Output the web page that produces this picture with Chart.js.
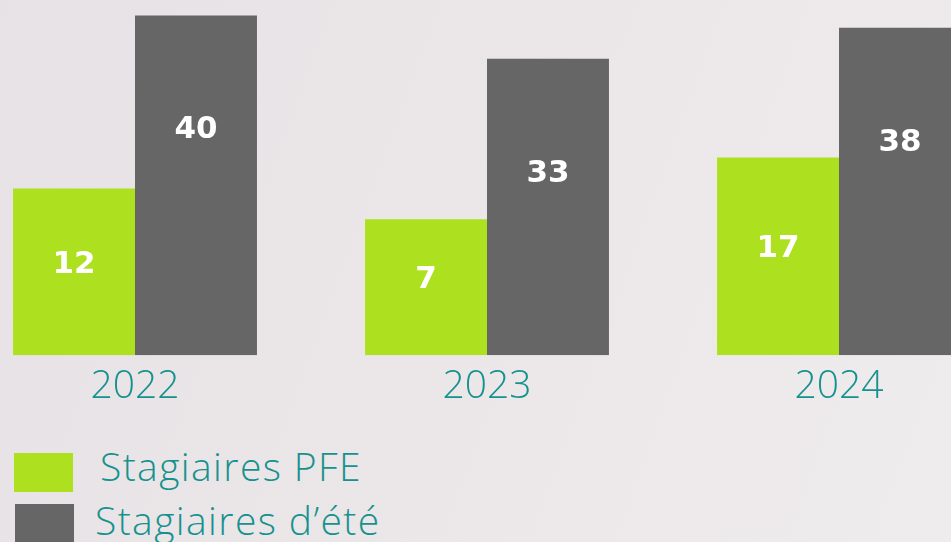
<!DOCTYPE html>
<html>
<head>
<meta charset="utf-8">
<script src="https://cdn.jsdelivr.net/npm/chart.js@4/dist/chart.umd.min.js"></script>
<style>
  html, body { margin: 0; padding: 0; width: 951px; height: 542px; overflow: hidden; }
  body { background: linear-gradient(110deg, #e7e2e5 0%, #ebe7e9 50%, #efecee 100%); position: relative; font-family: "Open Sans", sans-serif; }
  #wrap { position: absolute; left: -41px; top: 0; width: 1056px; height: 410px; }
  #legend { position: absolute; left: 0; top: 0; }
  .item { position: absolute; white-space: nowrap; color: #16928e; font-size: 39px; font-weight: 300; letter-spacing: 1.4px; }
  .box { position: absolute; width: 59px; height: 39px; }
</style>
</head>
<body>
<div id="wrap"><canvas id="c"></canvas></div>
<div id="legend"></div>
<script>
const categories = ["2022", "2023", "2024"];
const seriesNames = ["Stagiaires PFE", "Stagiaires d\u2019été"];
const stagiairesPFE = [12, 7, 17];
const stagiairesEte = [40, 33, 38];
const seriesColors = ["#ade01f", "#666666"];

const valueLabels = {
  id: "valueLabels",
  afterDatasetsDraw(chart) {
    const ctx = chart.ctx;
    ctx.save();
    ctx.fillStyle = "#ffffff";
    ctx.font = "bold 31px 'DejaVu Sans', sans-serif";
    ctx.textAlign = "center";
    ctx.textBaseline = "middle";
    chart.data.datasets.forEach((ds, di) => {
      chart.getDatasetMeta(di).data.forEach((bar, i) => {
        const h = bar.base - bar.y;
        const y = di === 0 ? (bar.y + h / 2 - 7) : (bar.y + 115);
        ctx.fillText(String(ds.data[i]), bar.x, y);
      });
    });
    ctx.restore();
  }
};

const chart = new Chart(document.getElementById("c"), {
  type: "bar",
  data: {
    labels: categories,
    datasets: [
      { label: seriesNames[0], data: stagiairesPFE, backgroundColor: seriesColors[0], base: -15 },
      { label: seriesNames[1], data: stagiairesEte, backgroundColor: seriesColors[1], base: -15 }
    ]
  },
  options: {
    responsive: true,
    maintainAspectRatio: false,
    animation: false,
    layout: { padding: 0 },
    datasets: { bar: { barPercentage: 1, categoryPercentage: 0.693 } },
    plugins: { legend: { display: false }, tooltip: { enabled: false } },
    scales: {
      x: {
        grid: { display: false },
        border: { display: false },
        ticks: { color: "#16928e", padding: 0, font: { family: "'Open Sans', sans-serif", size: 39, weight: 300 } }
      },
      y: {
        display: false,
        min: -15,
        max: 42.5
      }
    }
  },
  plugins: [valueLabels]
});

// HTML legend built from the chart datasets
const legend = document.getElementById("legend");
const legendPos = [{ bx: 14, by: 453, tx: 100, ty: 439 }, { bx: 15, by: 504, tx: 95, ty: 493 }];
chart.data.datasets.forEach((ds, i) => {
  const b = document.createElement("div");
  b.className = "box";
  b.style.left = legendPos[i].bx + "px";
  b.style.top = legendPos[i].by + "px";
  b.style.background = ds.backgroundColor;
  legend.appendChild(b);
  const t = document.createElement("div");
  t.className = "item";
  t.style.left = legendPos[i].tx + "px";
  t.style.top = legendPos[i].ty + "px";
  t.textContent = ds.label;
  legend.appendChild(t);
});
</script>
</body>
</html>
